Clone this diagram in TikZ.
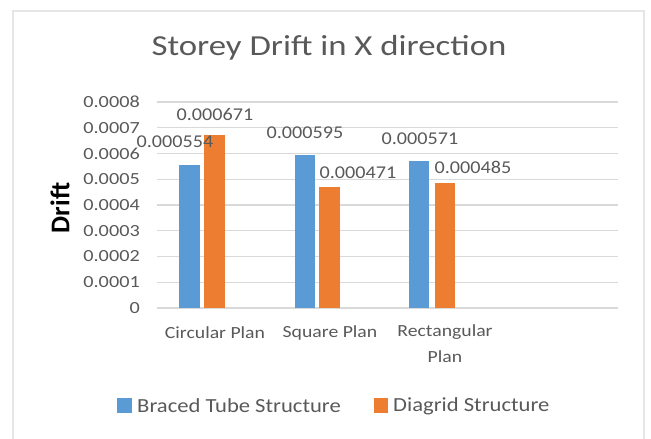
\documentclass[tikz,border=0pt]{standalone}
\usepackage{fontspec}
\setmainfont{Carlito}
\usetikzlibrary{positioning}
\definecolor{txtgray}{HTML}{595959}
\definecolor{gridgray}{HTML}{D9D9D9}
\definecolor{framegray}{HTML}{E6E6E6}
\definecolor{tubeblue}{HTML}{5B9BD5}
\definecolor{diaorange}{HTML}{ED7D31}
\tikzset{
  ticklbl/.style={anchor=east, text=txtgray, inner sep=0pt, xscale=1.19,
    font=\fontsize{17}{17}\selectfont},
  vallbl/.style={text=txtgray, inner sep=0pt, xscale=1.12,
    font=\fontsize{18}{18}\selectfont},
  catlbl/.style={text=txtgray, inner sep=0pt, align=center, xscale=1.16,
    font=\fontsize{17}{26}\selectfont},
  leglbl/.style={anchor=west, text=txtgray, inner sep=0pt, xscale=1.13,
    font=\fontsize{20}{20}\selectfont},
  tubebar/.style={fill=tubeblue},
  diabar/.style={fill=diaorange}
}
\begin{document}
\begin{tikzpicture}[x=1pt,y=-1pt]
  \useasboundingbox (0,0) rectangle (651,439);
  % chart frame
  \draw [framegray, line width=2pt] (13,445) -- (13,11) -- (644,11) -- (644,445);
  \node [text=txtgray, inner sep=0pt, xscale=1.2, font=\fontsize{29}{29}\selectfont]
    (title) at (329,48) {Storey Drift in X direction};
  % grid and axis ticks
  \foreach \k in {0,...,8} {
    \draw [gridgray, line width=1.2pt] (157,{308-\k*25.75}) -- (618,{308-\k*25.75});
    \node [ticklbl] (tick\k) at (140,{308-\k*25.75}) {\ifnum\k=0 0\else 0.000\k\fi};
  }
  \node [inner sep=0pt, font=\bfseries\fontsize{27}{27}\selectfont, rotate=90]
    (ylbl) at (60,208) {Drift};
  % bars
  \fill [tubebar] (179,308) rectangle (200,{308-554*0.2575});
  \fill [diabar] (204,308) rectangle (225,{308-671*0.2575});
  \fill [tubebar] (295,308) rectangle (315,{308-595*0.2575});
  \fill [diabar] (319,308) rectangle (340,{308-471*0.2575});
  \fill [tubebar] (409,308) rectangle (429,{308-571*0.2575});
  \fill [diabar] (435,308) rectangle (455,{308-485*0.2575});
  % value labels
  \node [vallbl] (v1) at (175,142) {0.000554};
  \node [vallbl] (v2) at (215,114) {0.000671};
  \node [vallbl] (v3) at (305,133) {0.000595};
  \node [vallbl] (v4) at (358,173) {0.000471};
  \node [vallbl] (v5) at (420,139) {0.000571};
  \node [vallbl] (v6) at (473,167) {0.000485};
  % categories
  \node [catlbl] (c1) at (215,333) {Circular Plan};
  \node [catlbl] (c2) at (330,333) {Square Plan};
  \node [catlbl, anchor=north] (c3) at (445,324) {Rectangular\\Plan};
  % legend
  \fill [tubebar] (117,398) rectangle (132,413);
  \node [leglbl] (leg1) at (137,406) {Braced Tube Structure};
  \fill [diabar] (374,398) rectangle (388,413);
  \node [leglbl] (leg2) at (393,406) {Diagrid Structure};
\end{tikzpicture}
\end{document}
